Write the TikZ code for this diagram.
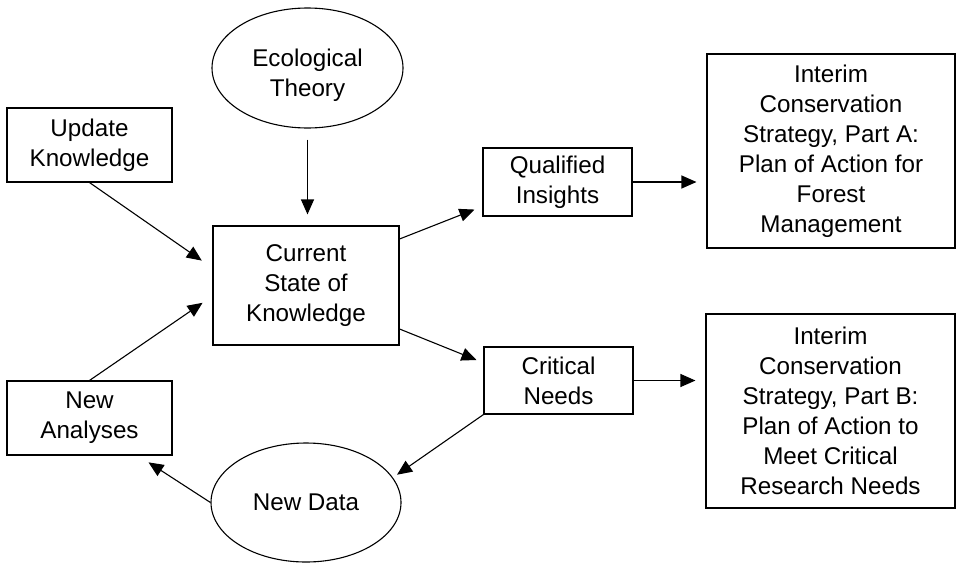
\documentclass[tikz,border=0pt]{standalone}
\usepackage{fontspec}
\setmainfont{Liberation Sans}
\usetikzlibrary{arrows.meta,shapes.geometric}
\begin{document}
\begin{tikzpicture}[x=1pt,y=-1pt,
  every node/.style={font=\fontsize{24.2}{30}\selectfont, align=center, inner sep=0pt, line width=1.1pt},
  box/.style={draw, rectangle},
  oval/.style={draw, ellipse},
  arr/.style={line width=1.1pt, -{Triangle[length=15pt,width=13pt]}}]
\useasboundingbox (0,0) rectangle (957,562);
\node[oval, minimum width=191pt, minimum height=120pt] (eco) at (307.5,68) {\rule{0pt}{33pt}Ecological\\Theory};
\node[box, minimum width=165pt, minimum height=74pt] (upd) at (89.5,145) {Update\\Knowledge};
\node[box, minimum width=186pt, minimum height=119pt] (cur) at (306,285.5) {Current\\State of\\Knowledge};
\node[box, minimum width=149pt, minimum height=68pt] (qual) at (557.5,182) {Qualified\\Insights};
\node[box, minimum width=149pt, minimum height=67pt] (crit) at (558.5,380.5) {Critical\\Needs};
\node[box, minimum width=165pt, minimum height=74pt] (newan) at (89.5,418) {New\\Analyses};
\node[oval, minimum width=190pt, minimum height=119pt] (newdata) at (306,502.5) {New Data};
\node[box, minimum width=248pt, minimum height=194pt] (pa) at (831,151) {Interim\\Conservation\\Strategy, Part A:\\Plan of Action for\\Forest\\Management};
\node[box, minimum width=249pt, minimum height=194pt] (pb) at (830.5,411) {Interim\\Conservation\\Strategy, Part B:\\Plan of Action to\\Meet Critical\\Research Needs};
\draw[arr, shorten <=11pt, shorten >=11pt] (eco.south) -- (eco.south |- cur.north);
\draw[arr, shorten >=13pt] (upd.south) -- ([yshift=17.5pt]cur.west);
\draw[arr, shorten >=8.6pt] ([yshift=46.5pt]cur.east) -- ([yshift=-24.4pt]qual.west);
\draw[arr, shorten >=10pt] (qual.east) -- (qual.east -| pa.west);
\draw[arr, shorten >=7.5pt] ([yshift=-43.5pt]cur.east) -- ([yshift=17.7pt]crit.west);
\draw[arr, shorten >=10pt] (crit.east) -- (crit.east -| pb.west);
\draw[arr, shorten >=5pt] (crit.south west) -- (newdata.16);
\draw[arr, shorten >=12.5pt] (newdata.west) -- ([xshift=48.5pt]newan.south);
\draw[arr, shorten >=12pt] (newan.north) -- ([yshift=-10.5pt]cur.west);
\end{tikzpicture}
\end{document}
